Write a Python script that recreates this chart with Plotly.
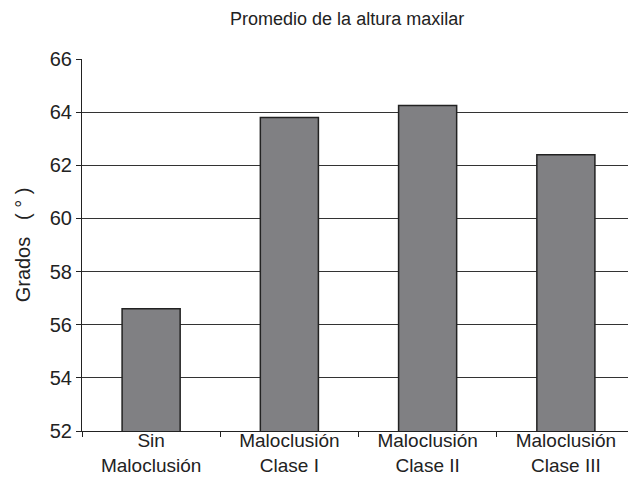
import plotly.graph_objects as go

categories = ["Sin<br>Maloclusión", "Maloclusión<br>Clase I", "Maloclusión<br>Clase II", "Maloclusión<br>Clase III"]
values = [56.6, 63.8, 64.25, 62.4]

fig = go.Figure(go.Bar(
    x=categories, y=values, width=0.42,
    marker=dict(color="#808083", line=dict(color="#222222", width=1.5)),
))

fig.update_layout(
    width=628, height=471,
    margin=dict(l=74, r=1, t=51, b=48, autoexpand=False),
    paper_bgcolor="white", plot_bgcolor="white",
    font=dict(family="Liberation Sans, Arial, sans-serif", color="#222222", size=19),
    title=dict(text="Promedio de la altura maxilar", x=0.54, xanchor="center", xref="container",
               y=0.978, yanchor="middle", yref="container",
               font=dict(size=18)),
    showlegend=False,
)
fig.update_yaxes(
    range=[52, 66], dtick=2, showgrid=True, gridcolor="#333333", gridwidth=1.2,
    showline=True, linecolor="#222222", linewidth=1.2,
    ticks="outside", ticklen=5, tickcolor="#222222",
    tickfont=dict(size=20), automargin=False,
    title=dict(text="Grados   ( ° )", font=dict(size=20), standoff=13),
)
fig.update_xaxes(
    showline=True, linecolor="#222222", linewidth=1.2,
    ticks="outside", tickson="boundaries", ticklen=5, tickcolor="#222222",
    tickfont=dict(size=19), automargin=False, ticklabelstandoff=-8,
)

fig.write_html("out.html")
